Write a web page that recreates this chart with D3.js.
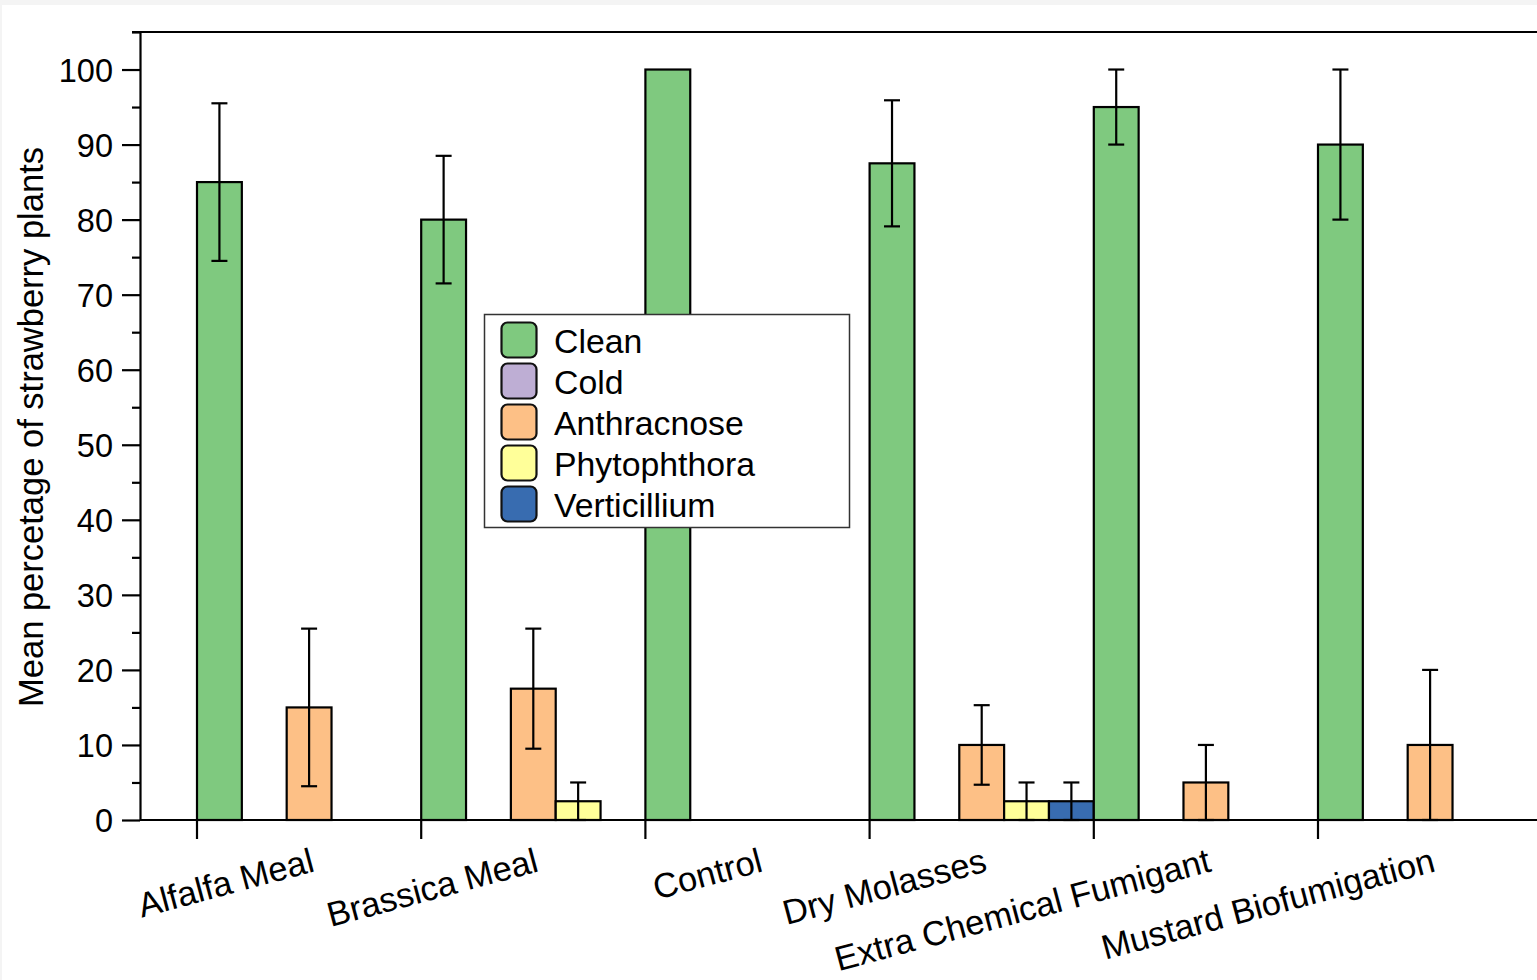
<!DOCTYPE html>
<html>
<head>
<meta charset="utf-8">
<script src="https://cdn.jsdelivr.net/npm/d3@7"></script>
<style>
  html, body { margin: 0; padding: 0; background: #f4f4f4; }
  svg { display: block; }
  text { font-family: "Liberation Sans", Arial, Helvetica, sans-serif; fill: #000; }
</style>
</head>
<body>
<svg id="chart" width="1537" height="980"></svg>
<script>
// ---- data ----
const categories = ["Alfalfa Meal", "Brassica Meal", "Control", "Dry Molasses", "Extra Chemical Fumigant", "Mustard Biofumigation"];
const seriesNames = ["Clean", "Cold", "Anthracnose", "Phytophthora", "Verticillium"];
const seriesColors = ["#7fc97f", "#beaed4", "#fdc086", "#ffff99", "#386cb0"];

const clean        = [85, 80, 100, 87.5, 95, 90];
const cleanErr     = [10.5, 8.5, 0, 8.4, 5, 10];
const cold         = [0, 0, 0, 0, 0, 0];
const coldErr      = [0, 0, 0, 0, 0, 0];
const anthracnose  = [15, 17.5, 0, 10, 5, 10];
const anthErr      = [10.5, 8, 0, 5.3, 5, 10];
const phytophthora = [0, 2.5, 0, 2.5, 0, 0];
const phytoErr     = [0, 2.5, 0, 2.5, 0, 0];
const verticillium = [0, 0, 0, 2.5, 0, 0];
const vertErr      = [0, 0, 0, 2.5, 0, 0];

const yMajorTicks = [0, 10, 20, 30, 40, 50, 60, 70, 80, 90, 100];
const yMinorTicks = [5, 15, 25, 35, 45, 55, 65, 75, 85, 95, 105];
const yLabel = "Mean percetage of strawberry plants";

const seriesValues = [clean, cold, anthracnose, phytophthora, verticillium];
const seriesErrors = [cleanErr, coldErr, anthErr, phytoErr, vertErr];

// ---- layout ----
const svg = d3.select("#chart");
svg.append("rect").attr("x", 2).attr("y", 5).attr("width", 1535).attr("height", 975).attr("fill", "#fff");

const plotLeft = 140, plotTop = 32, plotBottom = 820, plotRight = 1537;
const groupStart = 197, groupStep = 224.2;

const x = d3.scaleBand().domain(categories)
  .range([groupStart, groupStart + groupStep * categories.length]).paddingInner(0).paddingOuter(0);
const xs = d3.scaleBand().domain(seriesNames).range([0, x.bandwidth()]).padding(0);
const y = d3.scaleLinear().domain([0, 105]).range([plotBottom, plotTop]);
const color = d3.scaleOrdinal(seriesNames, seriesColors);

const records = [];
categories.forEach((c, i) => {
  seriesNames.forEach((s, j) => {
    records.push({cat: c, series: s, value: seriesValues[j][i], err: seriesErrors[j][i]});
  });
});
const shown = records.filter(d => d.value > 0);

// bars
svg.append("g").selectAll("rect").data(shown).join("rect")
  .attr("x", d => x(d.cat) + xs(d.series))
  .attr("y", d => y(d.value))
  .attr("width", xs.bandwidth())
  .attr("height", d => y(0) - y(d.value))
  .attr("fill", d => color(d.series))
  .attr("stroke", "#000")
  .attr("stroke-width", 2.2);

// error bars
const errs = shown.filter(d => d.err > 0);
const eg = svg.append("g").attr("stroke", "#000").attr("stroke-width", 2.2);
const cx = d => x(d.cat) + xs(d.series) + xs.bandwidth() / 2;
eg.selectAll("line.v").data(errs).join("line").attr("class", "v")
  .attr("x1", cx).attr("x2", cx)
  .attr("y1", d => y(d.value - d.err)).attr("y2", d => y(d.value + d.err));
eg.selectAll("line.t").data(errs).join("line").attr("class", "t")
  .attr("x1", d => cx(d) - 8).attr("x2", d => cx(d) + 8)
  .attr("y1", d => y(d.value + d.err)).attr("y2", d => y(d.value + d.err));
eg.selectAll("line.b").data(errs).join("line").attr("class", "b")
  .attr("x1", d => cx(d) - 8).attr("x2", d => cx(d) + 8)
  .attr("y1", d => y(Math.max(0, d.value - d.err))).attr("y2", d => y(Math.max(0, d.value - d.err)));

// y axis
const yAxisMajor = d3.axisLeft(y).tickValues(yMajorTicks).tickSize(18).tickPadding(9).tickSizeOuter(0);
const gy = svg.append("g").attr("transform", `translate(${plotLeft},0)`).call(yAxisMajor);
gy.selectAll("text").style("font-size", "32.5px").attr("dy", "0.36em");
gy.selectAll("line").attr("stroke", "#000").attr("stroke-width", 2.2);
gy.select(".domain").attr("stroke", "#000").attr("stroke-width", 2.2);
const yAxisMinor = d3.axisLeft(y).tickValues(yMinorTicks).tickSize(8).tickFormat("").tickSizeOuter(0);
const gym = svg.append("g").attr("transform", `translate(${plotLeft},0)`).call(yAxisMinor);
gym.select(".domain").remove();
gym.selectAll("line").attr("stroke", "#000").attr("stroke-width", 2.2);

// top spine
svg.append("line").attr("x1", plotLeft - 8).attr("x2", plotRight)
  .attr("y1", y(105)).attr("y2", y(105)).attr("stroke", "#000").attr("stroke-width", 2.2);

// x axis line
svg.append("line").attr("x1", plotLeft).attr("x2", plotRight)
  .attr("y1", y(0)).attr("y2", y(0)).attr("stroke", "#000").attr("stroke-width", 2.2);

// x ticks at group start
svg.append("g").selectAll("line").data(categories).join("line")
  .attr("x1", d => x(d)).attr("x2", d => x(d))
  .attr("y1", y(0)).attr("y2", y(0) + 19)
  .attr("stroke", "#000").attr("stroke-width", 2.2);

// x labels
svg.append("g").selectAll("text").data(categories).join("text")
  .attr("transform", d => `translate(${x(d) + x.bandwidth() / 2},846) rotate(-15)`)
  .attr("text-anchor", "end")
  .attr("dy", "0.75em")
  .style("font-size", "34.5px")
  .text(d => d);

// y label
svg.append("text")
  .attr("transform", `translate(43,${(plotTop + plotBottom) / 2 + 1}) rotate(-90)`)
  .attr("text-anchor", "middle")
  .style("font-size", "34.5px")
  .text(yLabel);

// legend
const lg = svg.append("g");
lg.append("rect").attr("x", 484.5).attr("y", 314.5).attr("width", 365).attr("height", 213)
  .attr("fill", "#fff").attr("stroke", "#333").attr("stroke-width", 1.5);
const items = lg.selectAll("g.item").data(seriesNames).join("g").attr("class", "item")
  .attr("transform", (d, i) => `translate(0,${322.5 + i * 41})`);
items.append("rect").attr("x", 501.5).attr("y", 0).attr("width", 35).attr("height", 35)
  .attr("rx", 6).attr("ry", 6)
  .attr("fill", d => color(d)).attr("stroke", "#111").attr("stroke-width", 2.2);
items.append("text").attr("x", 554).attr("y", 18).attr("dy", "0.36em")
  .style("font-size", "33.8px").text(d => d);
</script>
</body>
</html>
